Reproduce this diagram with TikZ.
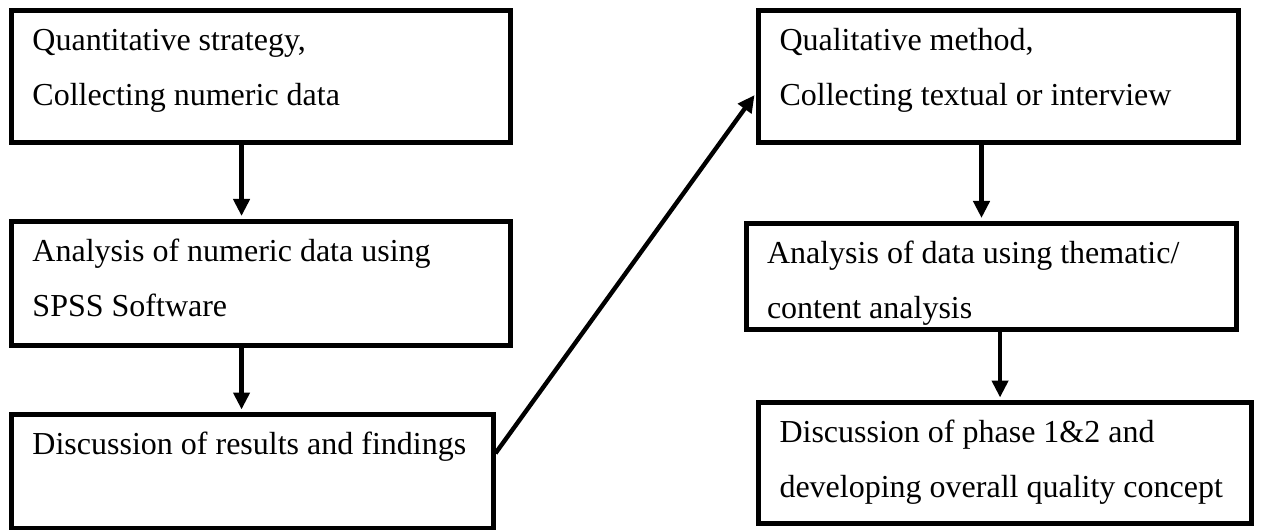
\documentclass[tikz,border=0pt]{standalone}
\usepackage{fontspec}
\setmainfont{Liberation Serif}
\usetikzlibrary{arrows.meta}
\tikzstyle{stage}=[draw,line width=2.5pt,fill=white,inner xsep=10.5pt,inner ysep=0pt,
                   font=\fontsize{16pt}{27.5pt}\selectfont]
\tikzstyle{flow} = [draw,line width=2.2pt,-{Triangle[width=8pt,length=8.5pt]},shorten >=1.25pt]
\newcommand{\stagetext}[3]{\parbox[c][#2][t]{#1}{\rule{0pt}{20pt}#3}}

\begin{document}
\begin{tikzpicture}[x=0.5pt,y=-0.5pt]
				\useasboundingbox (0,0) rectangle (1261,529);

				% First we draw the stages of both phases
				\foreach \pos/\w/\h/\name/\txt in {
						{(260.75,76.75)/228.25pt/66.25pt/quant/{Quantitative strategy,\\Collecting numeric data}},
						{(260.75,283)/228.25pt/62pt/spss/{Analysis of numeric data using\\SPSS Software}},
						{(252.25,471.25)/219.75pt/56.75pt/results/{Discussion of results and findings}},
						{(998.5,76.5)/219pt/66pt/qual/{Qualitative method,\\Collecting textual or interview}},
						{(991.25,276.25)/224.25pt/53.25pt/thematic/{Analysis of data using thematic/\\content analysis}},
						{(1005,463)/225.5pt/60.5pt/concept/{Discussion of phase 1\&2 and\\developing overall quality concept}}}
				\node[stage] (\name) at \pos {\stagetext{\w}{\h}{\txt}};

				% Connect the stages of each phase
				\path[flow] ([xshift=-9.6pt]quant.south) -- ([xshift=-9.6pt]quant.south |- spss.north);
				\path[flow] ([xshift=-9.6pt]spss.south) -- ([xshift=-9.6pt]spss.south |- results.north);
				\path[flow] ([xshift=-8.5pt]qual.south) -- ([xshift=-8.5pt]qual.south |- thematic.north);
				\path[flow] ([xshift=4.4pt]thematic.south) -- ([xshift=4.4pt]thematic.south |- concept.north);

				% From phase 1 to phase 2
				\path[flow] ([yshift=9pt]results.east) -- ([yshift=-8.25pt]qual.west);

			\end{tikzpicture}
\end{document}
